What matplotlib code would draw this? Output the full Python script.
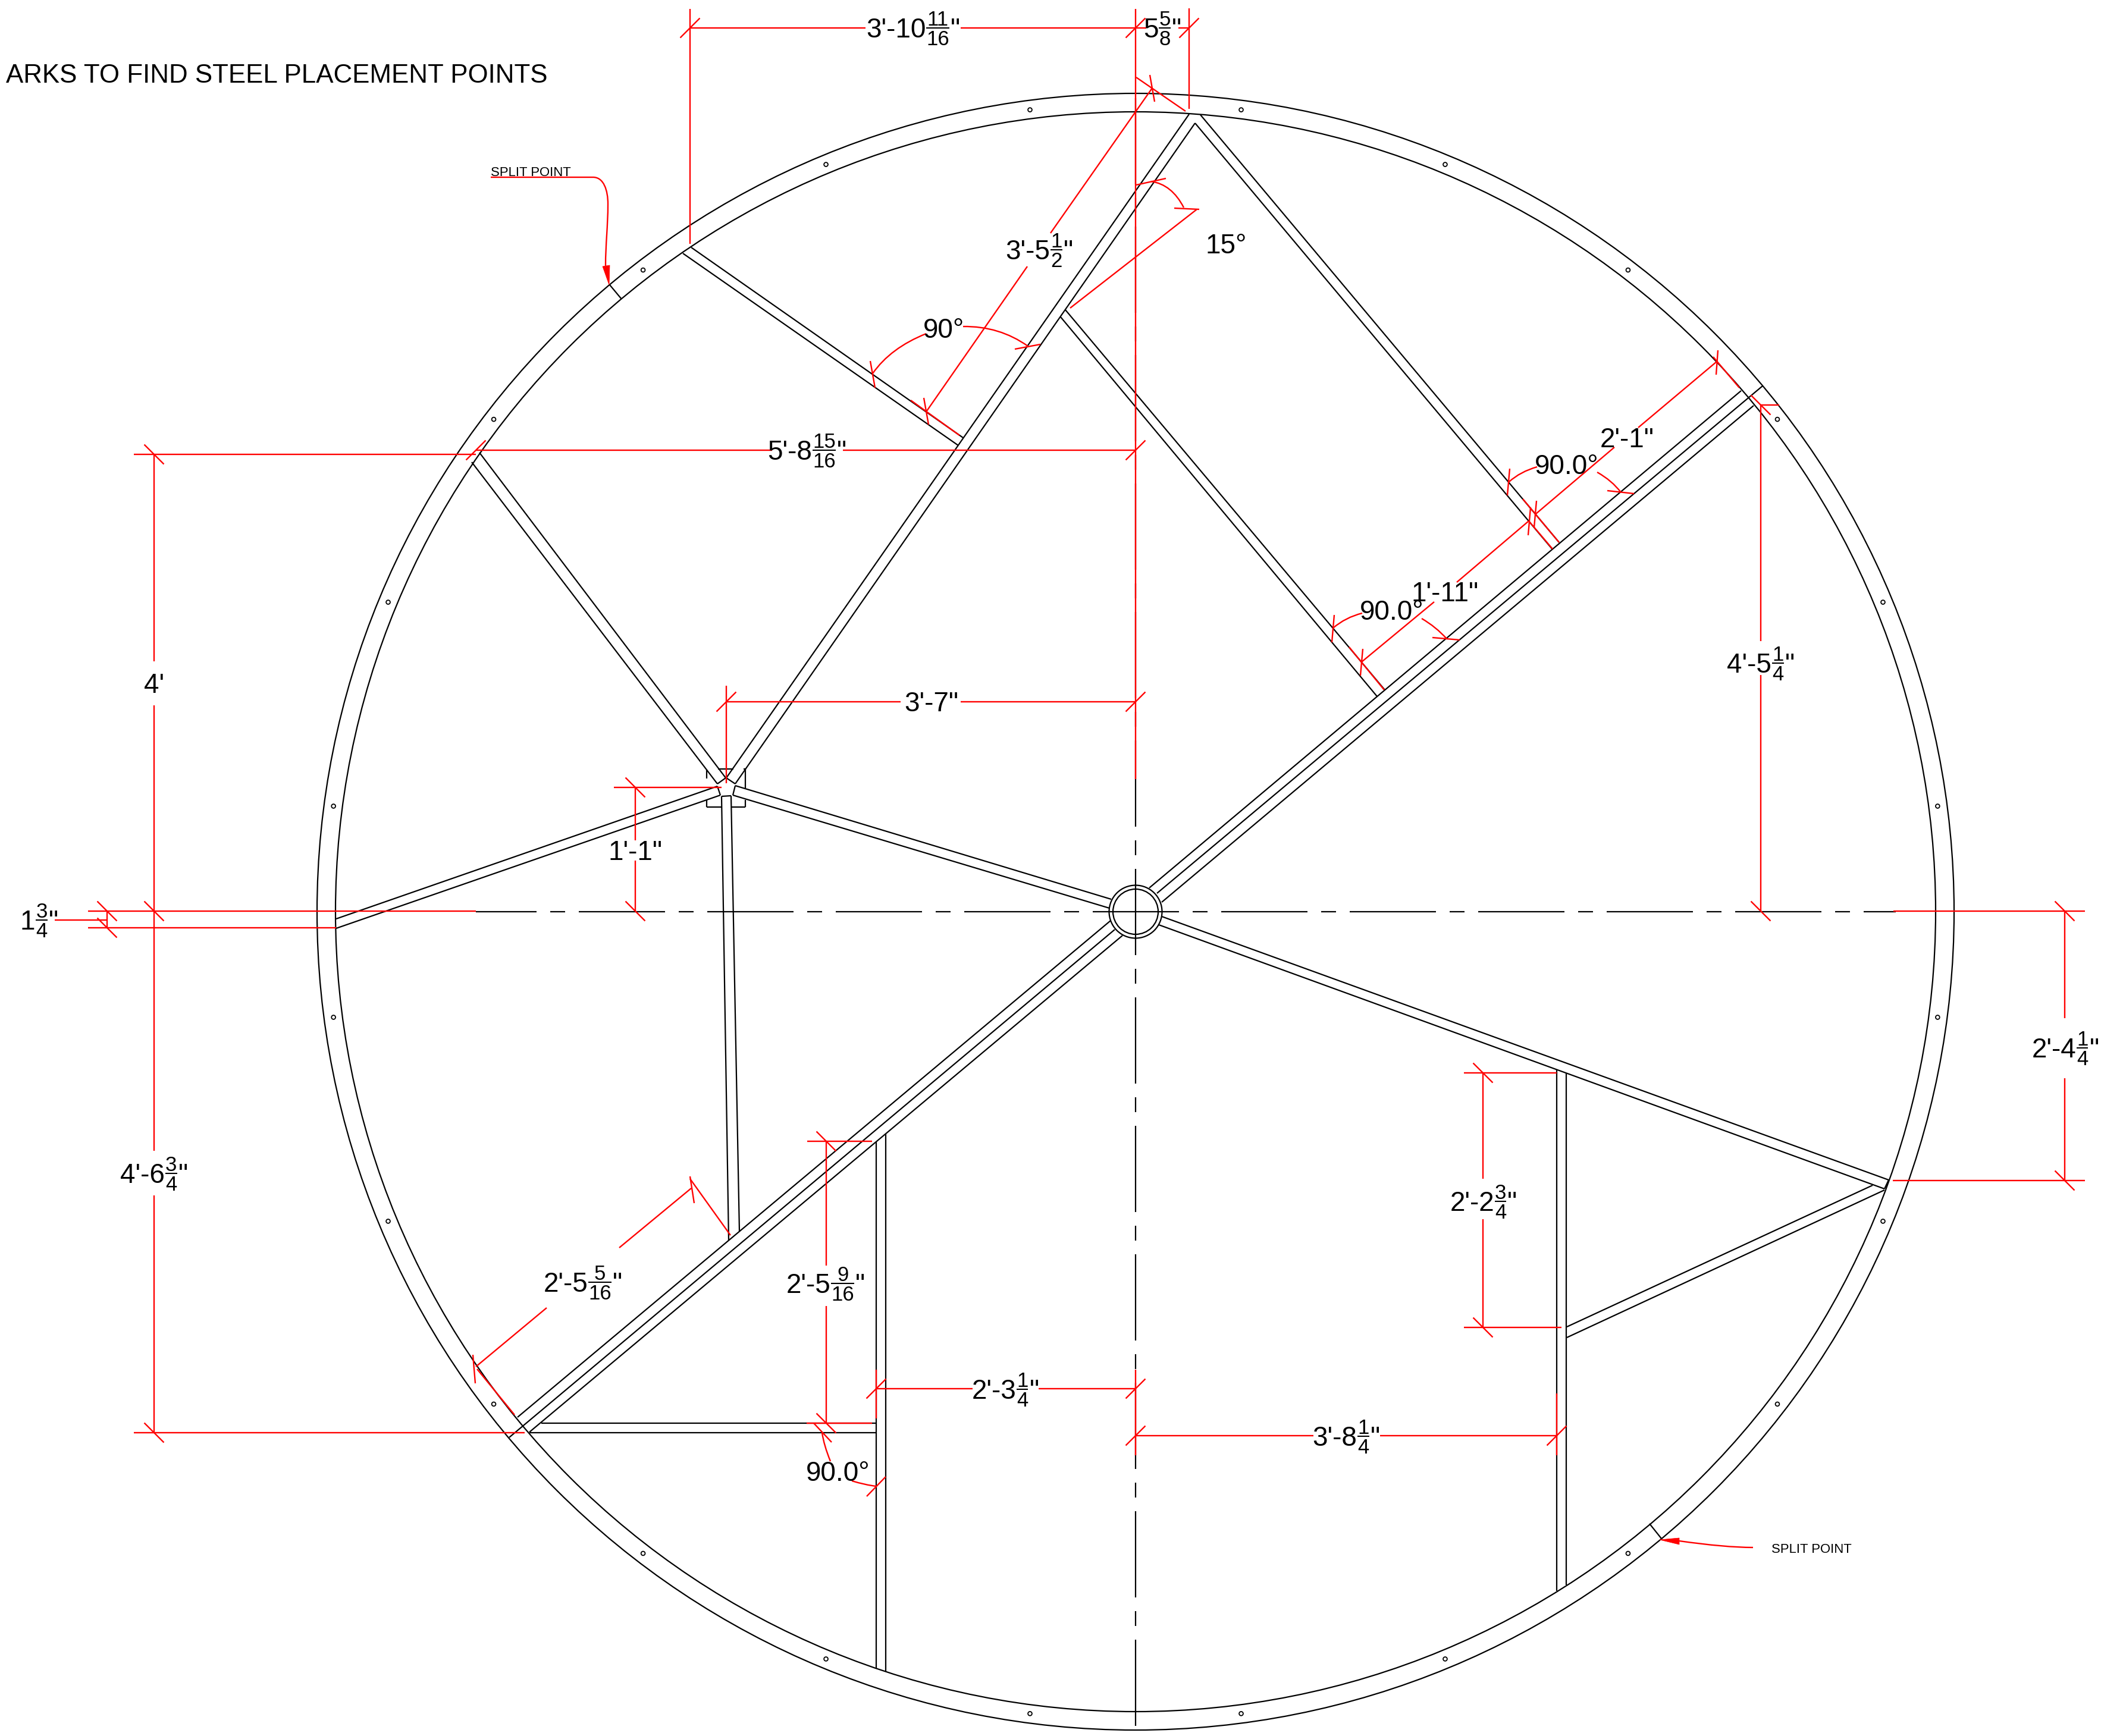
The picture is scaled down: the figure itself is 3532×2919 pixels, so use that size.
import numpy as np
import matplotlib
matplotlib.use("Agg")
import matplotlib.pyplot as plt
from matplotlib.path import Path
from matplotlib.patches import PathPatch, Circle, Polygon

W, H = 3532, 2919
FONT = "Liberation Sans"
RED = "#ff0000"

CENTER = (1909, 1533)
RING_RADII = [1376, 1345]
HUB_RADII = [44.5, 38]
HOLE_RADIUS = 1360
HOLE_ANGLES = [7.5 + 15 * i for i in range(24)]

BLACK_SEGMENTS = [
    # main diagonal (three lines)
    ((1932, 1493), (2927, 657)), ((1945, 1502), (2963, 649)), ((1953, 1517), (2948, 682)),
    ((1867, 1548), (870, 2383)), ((1874, 1563), (856, 2417)), ((1887, 1573), (890, 2408)),
    # node to top tip
    ((1221, 1308), (1999, 192)), ((1236, 1318), (2009, 207)),
    # top tip to diagonal
    ((2018, 193), (2621, 912)), ((2009, 207), (2610, 924)),
    # node to upper-left ring
    ((1206, 1318), (793, 777)), ((1220, 1308), (806, 761)),
    # node to left ring
    ((1206, 1322), (565, 1545)), ((1211, 1337), (565, 1561)),
    # node down to diagonal
    ((1213, 1339), (1225, 2086)), ((1229, 1338), (1243, 2071)),
    # node to hub
    ((1236, 1321), (1868, 1512)), ((1232, 1337), (1865, 1527)),
    # hub to lower right
    ((1953, 1541), (3175, 1984)), ((1948, 1555), (3168, 1999)),
    # tip to vertical
    ((3148, 1993), (2634, 2231)), ((3168, 2001), (2634, 2249)),
    # verticals
    ((2617, 1798), (2617, 2675)), ((2633, 1804), (2633, 2665)),
    ((1473, 1920), (1473, 2805)), ((1489, 1907), (1489, 2811)),
    # horizontal
    ((910, 2393), (1473, 2393)), ((890, 2409), (1473, 2409)),
    # upper left brace
    ((1162, 416), (1619, 736)), ((1148, 426), (1611, 749)),
    # brace to diagonal
    ((1791, 521), (2328, 1160)), ((1783, 533), (2315, 1171)),
    # node end caps
    ((1221, 1308), (1236, 1318)), ((1206, 1318), (1220, 1308)), ((1206, 1322), (1211, 1337)),
    ((1213, 1339), (1229, 1338)), ((1236, 1321), (1232, 1337)),
    ((3175, 1984), (3168, 1999)),
    # node plate
    ((1188, 1294), (1188, 1309)), ((1188, 1344), (1188, 1357)),
    ((1188, 1357), (1213, 1357)), ((1230, 1357), (1253, 1357)),
    ((1253, 1357), (1253, 1345)), ((1253, 1293), (1253, 1327)),
    ((1207, 1293), (1233, 1293)), ((1250, 1293), (1253, 1293)),
    # ring splits
    ((1025, 479), (1045, 503)), ((2773, 2562), (2793, 2587)),
]

RED_SEGMENTS = [
    # long centre overlays
    ((1909, 15), (1909, 1310)), ((148, 1532), (800, 1532)), ((148, 1560), (565, 1560)),
    ((3183, 1532), (3505, 1532)), ((3182, 1985), (3505, 1985)),
    # 1 3/4
    ((180, 1532), (180, 1560)), ((92, 1547), (180, 1547)),
    # left overall dims
    ((259, 764), (259, 1112)), ((259, 1186), (259, 1935)), ((259, 2010), (259, 2409)),
    ((225, 764), (800, 764)), ((225, 2409), (882, 2409)),
    # top dims
    ((1160, 15), (1160, 410)), ((1160, 47), (1455, 47)), ((1615, 47), (1927, 47)),
    ((1981, 47), (1999, 47)), ((1999, 14), (1999, 183)),
    # 3'-5 1/2
    ((1910, 130), (1993, 187)), ((1933, 126), (1941, 171)),
    ((1937, 148), (1766, 392)), ((1727, 448), (1558, 691)),
    ((1553, 669), (1561, 714)), ((1531, 673), (1613, 732)),
    ((1463, 607), (1471, 652)), ((1706, 587), (1749, 579)),
    # 15 deg
    ((1799, 518), (2012, 352)), ((1910, 311), (1960, 300)), ((1974, 350), (2016, 352)),
    # 5'-8 15/16
    ((800, 757), (1298, 757)), ((1417, 757), (1909, 757)),
    # 3'-7"
    ((1221, 1153), (1221, 1317)), ((1221, 1180), (1514, 1180)), ((1615, 1180), (1909, 1180)),
    # 1'-1"
    ((1068, 1324), (1068, 1413)), ((1068, 1447), (1068, 1532)), ((1032, 1324), (1213, 1324)),
    # right 2'-4 1/4
    ((3471, 1532), (3471, 1712)), ((3471, 1813), (3471, 1985)),
    # 4'-5 1/4
    ((2960, 681), (2960, 1078)), ((2960, 1135), (2960, 1532)), ((2960, 681), (2991, 681)),
    # 2'-1"
    ((2886, 608), (2754, 719)), ((2714, 752), (2582, 864)),
    ((2888, 589), (2885, 630)), ((2880, 600), (2924, 652)),
    ((2583, 842), (2579, 887)), ((2560, 839), (2621, 912)),
    # 1'-11"
    ((2570, 876), (2449, 979)), ((2411, 1012), (2289, 1113)),
    ((2573, 853), (2569, 900)), ((2291, 1091), (2287, 1136)),
    ((2570, 876), (2610, 923)), ((2268, 1088), (2327, 1160)),
    # 90.0 ticks, upper right
    ((2538, 788), (2534, 833)), ((2702, 825), (2747, 830)),
    ((2243, 1034), (2239, 1080)), ((2408, 1072), (2454, 1076)),
    # 2'-5 5/16
    ((1162, 1998), (1041, 2098)), ((919, 2199), (800, 2298)),
    ((1160, 1978), (1167, 2023)), ((795, 2278), (799, 2326)),
    ((1160, 1982), (1228, 2077)), ((802, 2302), (865, 2379)),
    # 2'-5 9/16
    ((1389, 1919), (1389, 2128)), ((1389, 2196), (1389, 2393)),
    ((1357, 1919), (1466, 1919)), ((1356, 2393), (1466, 2393)),
    # 2'-3 1/4
    ((1473, 2335), (1635, 2335)), ((1746, 2335), (1909, 2335)),
    ((1473, 2303), (1473, 2385)), ((1909, 2303), (1909, 2447)),
    # 3'-8 1/4
    ((1909, 2414), (2208, 2414)), ((2320, 2414), (2617, 2414)), ((2617, 2343), (2617, 2447)),
    # 2'-2 3/4
    ((2493, 1804), (2493, 1982)), ((2493, 2050), (2493, 2232)),
    ((2461, 1804), (2617, 1804)), ((2461, 2232), (2625, 2232)),
    # 90.0 bottom ticks
    ((1368, 2393), (1398, 2425)), ((1457, 2516), (1489, 2483)),
]

SLASH_TICKS = [(1160, 47), (1909, 47), (1999, 47), (1221, 1180), (1909, 1180), (800, 757), (1909, 757),
               (1473, 2335), (1909, 2335), (1909, 2414), (2617, 2414)]
BACKSLASH_TICKS = [(180, 1532), (180, 1560), (259, 764), (259, 1532), (259, 2409), (1068, 1324), (1068, 1532),
                   (3471, 1532), (3471, 1985), (2960, 1532), (2960, 681), (1389, 1919), (1389, 2393),
                   (2493, 1804), (2493, 2232)]
TICK_HALF = 16.5

# start, control, end of each angle arc
ARCS = [
    ((1467, 628), (1497, 585), (1557, 561)), ((1619, 549), (1680, 548), (1728, 582)),
    ((2537, 810), (2556, 793), (2584, 785)), ((2685, 794), (2710, 808), (2725, 828)),
    ((2241, 1056), (2262, 1038), (2290, 1031)), ((2390, 1040), (2414, 1054), (2432, 1074)),
    ((1382, 2409), (1385, 2430), (1396, 2457)), ((1432, 2490), (1455, 2497), (1473, 2499)),
    ((1935, 305), (1970, 310), (1990, 349)),
]

# centre x, centre y, main text, numerator, denominator
DIM_LABELS = [
    (1535, 47, "3'-10", "11", "16"), (1954, 47, "5", "5", "8"),
    (1747, 420, "3'-5", "1", "2"), (1357, 757, "5'-8", "15", "16"),
    (66, 1547, "1", "3", "4"), (259, 1973, "4'-6", "3", "4"),
    (2960, 1115, "4'-5", "1", "4"), (3472, 1762, "2'-4", "1", "4"),
    (2494, 2020, "2'-2", "3", "4"), (2263, 2415, "3'-8", "1", "4"),
    (1690, 2336, "2'-3", "1", "4"), (1388, 2158, "2'-5", "9", "16"),
    (980, 2156, "2'-5", "5", "16"),
]
PLAIN_LABELS = [
    (259, 1149, "4'"), (1566, 1180, "3'-7\""), (1068, 1430, "1'-1\""),
    (2061, 410, "15°"), (1587, 552, "90°"), (2634, 781, "90.0°"),
    (2340, 1026, "90.0°"), (1409, 2474, "90.0°"),
    (2735, 736, "2'-1\""), (2429, 995, "1'-11\""),
]
TITLE = "ARKS TO FIND STEEL PLACEMENT POINTS"
NOTE = "SPLIT POINT"
NOTE_POS = [(825, 296), (2978, 2611)]

CENTERLINE_LONG, CENTERLINE_SHORT, CENTERLINE_GAP = 145, 25, 23
CENTERLINE_LEFT, CENTERLINE_RIGHT = 800, 3187
CENTERLINE_TOP, CENTERLINE_BOTTOM = 15, 2910

BLACK_LW = 1.6
RED_LW = 1.7
MAIN_PT = 33
SMALL_PT = 25

fig = plt.figure(figsize=(W / 100, H / 100), dpi=100, facecolor="white")
ax = fig.add_axes([0, 0, 1, 1])
ax.set_xlim(0, W)
ax.set_ylim(H, 0)
ax.axis("off")


def seg(a, b, color, lw, z=2):
    ax.plot([a[0], b[0]], [a[1], b[1]], color=color, lw=lw, solid_capstyle="butt", zorder=z)


for r in RING_RADII + HUB_RADII:
    ax.add_patch(Circle(CENTER, r, fill=False, ec="black", lw=BLACK_LW, zorder=2))
for ang in HOLE_ANGLES:
    t = np.radians(ang)
    ax.add_patch(Circle((CENTER[0] + HOLE_RADIUS * np.cos(t), CENTER[1] - HOLE_RADIUS * np.sin(t)),
                        3.4, fill=False, ec="black", lw=1.3, zorder=2))
for a, b in BLACK_SEGMENTS:
    seg(a, b, "black", BLACK_LW)

# dash-dot centre lines
period = CENTERLINE_LONG + CENTERLINE_SHORT + 2 * CENTERLINE_GAP
half = CENTERLINE_LONG / 2
for k in range(-6, 7):
    x = CENTER[0] + k * period
    if x + half > CENTERLINE_LEFT and x - half < CENTERLINE_RIGHT:
        seg((max(x - half, CENTERLINE_LEFT), CENTER[1]), (min(x + half, CENTERLINE_RIGHT), CENTER[1]), "black", BLACK_LW)
    sx = x + half + CENTERLINE_GAP
    if sx + CENTERLINE_SHORT < CENTERLINE_RIGHT and sx > CENTERLINE_LEFT:
        seg((sx, CENTER[1]), (sx + CENTERLINE_SHORT, CENTER[1]), "black", BLACK_LW)
    y = CENTER[1] + k * period
    if y + half > CENTERLINE_TOP and y - half < CENTERLINE_BOTTOM:
        seg((CENTER[0], max(y - half, CENTERLINE_TOP)), (CENTER[0], min(y + half, CENTERLINE_BOTTOM)), "black", BLACK_LW)
    sy = y + half + CENTERLINE_GAP
    if sy + CENTERLINE_SHORT < CENTERLINE_BOTTOM and sy > CENTERLINE_TOP:
        seg((CENTER[0], sy), (CENTER[0], sy + CENTERLINE_SHORT), "black", BLACK_LW)

for a, b in RED_SEGMENTS:
    seg(a, b, RED, RED_LW, z=3)
for x, y in SLASH_TICKS:
    seg((x - TICK_HALF, y + TICK_HALF), (x + TICK_HALF, y - TICK_HALF), RED, RED_LW, z=3)
for x, y in BACKSLASH_TICKS:
    seg((x - TICK_HALF, y - TICK_HALF), (x + TICK_HALF, y + TICK_HALF), RED, RED_LW, z=3)
for s, c, e in ARCS:
    ax.add_patch(PathPatch(Path([s, c, e], [Path.MOVETO, Path.CURVE3, Path.CURVE3]),
                           fill=False, ec=RED, lw=RED_LW, zorder=3))

# split point leaders
ax.add_patch(PathPatch(Path([(825, 298), (997, 298), (1015, 298), (1022, 320), (1022, 343),
                             (1022, 380), (1018, 410), (1018, 447)],
                            [Path.MOVETO, Path.LINETO, Path.CURVE4, Path.CURVE4, Path.CURVE4,
                             Path.CURVE4, Path.CURVE4, Path.CURVE4]),
                       fill=False, ec=RED, lw=RED_LW, zorder=3))
ax.add_patch(Polygon([(1024, 479), (1013, 448), (1025, 446)], closed=True, fc=RED, ec=RED, lw=0.5, zorder=3))
ax.add_patch(PathPatch(Path([(2823, 2591), (2900, 2602), (2947, 2602)], [Path.MOVETO, Path.CURVE3, Path.CURVE3]),
                       fill=False, ec=RED, lw=RED_LW, zorder=3))
ax.add_patch(Polygon([(2790, 2589), (2823, 2586), (2823, 2597)], closed=True, fc=RED, ec=RED, lw=0.5, zorder=3))

# text
renderer = fig.canvas.get_renderer()


def txt(x, y, s, size, ha="left"):
    return ax.text(x, y, s, fontsize=size, family=FONT, color="black", ha=ha, va="baseline", zorder=4)


def width(s, size):
    t = txt(0, 0, s, size)
    w = t.get_window_extent(renderer).width
    t.remove()
    return w


for cx, cy, main, num, den in DIM_LABELS:
    wm = width(main, MAIN_PT)
    wf = max(width(num, SMALL_PT), width(den, SMALL_PT))
    wq = width('"', MAIN_PT)
    x0 = cx - (wm + wf + wq + 3) / 2
    txt(x0, cy + 16, main, MAIN_PT)
    fx = x0 + wm + 1 + wf / 2
    txt(fx, cy - 4, num, SMALL_PT, ha="center")
    txt(fx, cy + 29, den, SMALL_PT, ha="center")
    ax.plot([fx - wf / 2, fx + wf / 2], [cy, cy], color="black", lw=1.5, zorder=4, solid_capstyle="butt")
    txt(x0 + wm + wf + 3, cy + 16, '"', MAIN_PT)

for cx, cy, s in PLAIN_LABELS:
    txt(cx, cy + 16, s, MAIN_PT, ha="center")

txt(921, 139, TITLE, 31.6, ha="right")
for x, y in NOTE_POS:
    txt(x, y, NOTE, 15.9)

fig.savefig("out.png", dpi=100, facecolor="white")
